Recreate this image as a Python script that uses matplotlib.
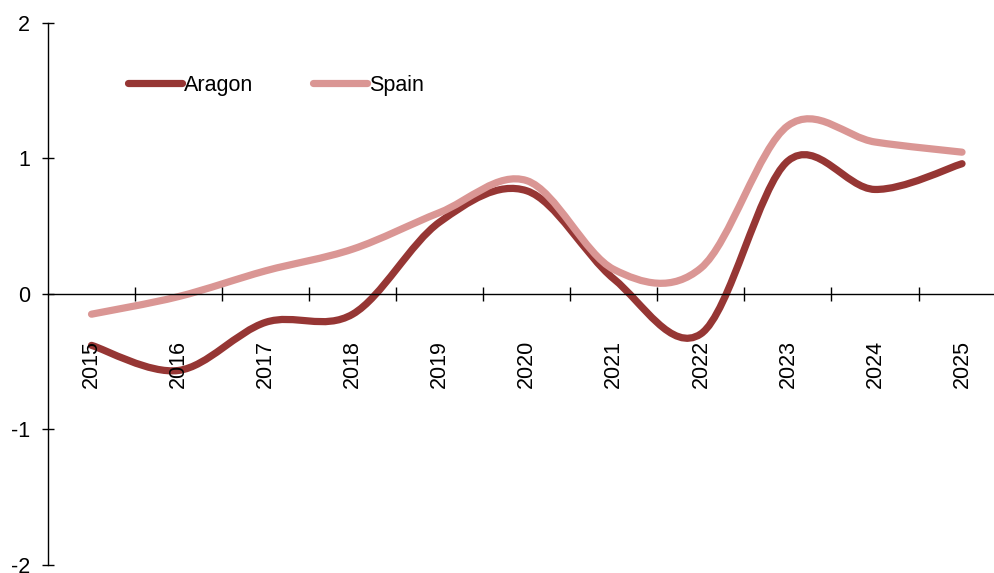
import numpy as np
import matplotlib.pyplot as plt
from matplotlib.path import Path
from matplotlib.patches import PathPatch
from matplotlib.lines import Line2D

plt.rcParams['font.family'] = ['Liberation Sans', 'DejaVu Sans']
plt.rcParams['axes.unicode_minus'] = False

years = ['2015', '2016', '2017', '2018', '2019', '2020', '2021', '2022', '2023', '2024', '2025']
aragon = [-0.38, -0.565, -0.21, -0.15, 0.53, 0.76, 0.11, -0.295, 0.98, 0.77, 0.96]
spain = [-0.15, -0.02, 0.17, 0.33, 0.60, 0.835, 0.18, 0.19, 1.24, 1.12, 1.045]

c_aragon = '#963634'
c_spain = '#DA9694'


# excel style smoothed line (catmull-rom as bezier)
def smooth_path(xs, ys):
    pts = np.column_stack([xs, ys]).astype(float)
    n = len(pts)
    verts = [pts[0]]
    codes = [Path.MOVETO]
    for i in range(n - 1):
        p0 = pts[max(i - 1, 0)]
        p1 = pts[i]
        p2 = pts[i + 1]
        p3 = pts[min(i + 2, n - 1)]
        verts += [p1 + (p2 - p0) / 6, p2 - (p3 - p1) / 6, p2]
        codes += [Path.CURVE4] * 3
    return Path(verts, codes)


fig = plt.figure(figsize=(9.94, 5.73), dpi=100)
ax = fig.add_axes([48 / 994, 8 / 573, 946 / 994, 542.3 / 573])

x = np.arange(len(years))
for vals, col in [(aragon, c_aragon), (spain, c_spain)]:
    patch = PathPatch(smooth_path(x, vals), facecolor='none', edgecolor=col,
                      lw=5.2, capstyle='round', joinstyle='round')
    ax.add_patch(patch)

ax.set_xlim(-0.5, -0.5 + 946 / 87.05)
ax.set_ylim(-2, 2)

ax.spines['top'].set_visible(False)
ax.spines['right'].set_visible(False)
ax.spines['bottom'].set_position(('data', 0))
ax.spines['left'].set_linewidth(1)
ax.spines['bottom'].set_linewidth(1)

ax.set_yticks([-2, -1, 0, 1, 2])
ax.tick_params(axis='y', direction='inout', length=8, width=1, pad=9, labelsize=15.5)

ax.set_xticks(np.arange(len(years) - 1) + 0.5)
ax.set_xticklabels([])
ax.set_xticks(x, minor=True)
ax.set_xticklabels(years, minor=True, rotation=90)
ax.tick_params(axis='x', which='major', direction='inout', length=9.5, width=1)
ax.tick_params(axis='x', which='minor', length=0, pad=33, labelsize=15.5)

handles = [Line2D([], [], color=c_aragon, lw=5.2, solid_capstyle='round'),
           Line2D([], [], color=c_spain, lw=5.2, solid_capstyle='round')]
fig.legend(handles, ['Aragon', 'Spain'], loc='center left',
           bbox_to_anchor=(128 / 994, 1 - 85 / 573), ncol=2, frameon=False,
           fontsize=15.5, handlelength=2.5, handletextpad=0.12,
           columnspacing=2.75, borderpad=0, borderaxespad=0)

fig.savefig('out.png', dpi=100)
